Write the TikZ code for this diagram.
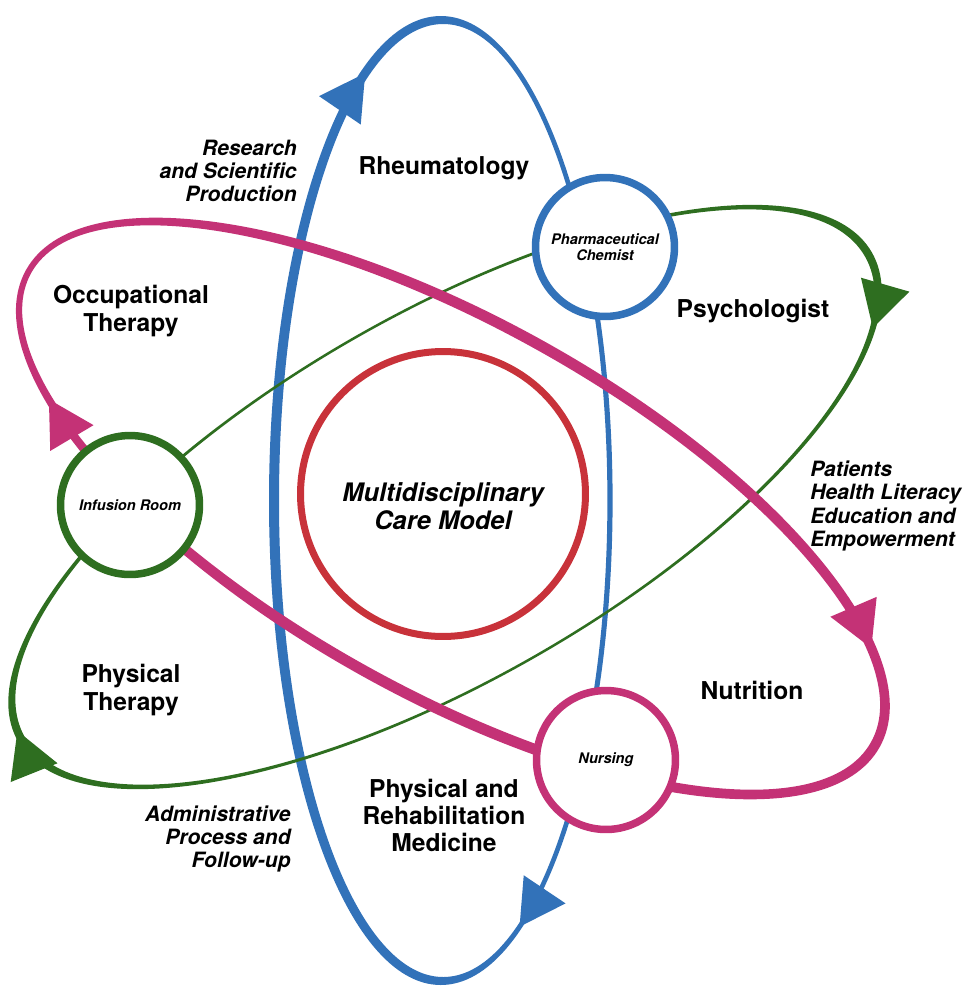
\documentclass[tikz,border=0pt]{standalone}
\usepackage{fontspec}
\setmainfont{TeX Gyre Heros}
\usepackage{tikz}
\usetikzlibrary{arrows.meta}

\definecolor{rblue}{RGB}{50,114,185}
\definecolor{rpink}{RGB}{196,50,118}
\definecolor{rgreen}{RGB}{46,110,32}
\definecolor{rred}{RGB}{200,50,58}

\begin{document}
\begin{tikzpicture}[x=0.02cm, y=-0.02cm,
    every node/.style={align=center, inner sep=0pt},
    lbl/.style={font=\fontsize{14}{15.4}\selectfont\bfseries},
    sidelbl/.style={font=\fontsize{12}{13.3}\selectfont\bfseries\itshape},
    hub/.style={circle, draw, fill=white, line width=0.15cm, minimum size=2.78cm,
        font=\fontsize{8.3}{9.4}\selectfont\bfseries\itshape},
    arr/.style={-{Triangle[length=0.9cm, width=1cm]}, line width=1pt}]
    \useasboundingbox (0,0) rectangle (970,992);
    % orbits
    \begin{scope}[shift={(442,500.5)}]
        \fill[rblue, even odd rule] (-1.2,0) ellipse (171.8 and 484.5) (1.2,0) ellipse (164.2 and 476.5);
        \draw[arr, rblue] (227.8:168 and 480.5) arc[start angle=227.8, end angle=242.8, x radius=168, y radius=480.5];
        \draw[arr, rblue] (47.5:168 and 480.5) arc[start angle=47.5, end angle=62.5, x radius=168, y radius=480.5];
    \end{scope}
    \begin{scope}[shift={(445,497)}, rotate=29.8]
        \fill[rgreen, even odd rule] (0,0) ellipse (492 and 184.25) (0,0) ellipse (484 and 181.75);
        \draw[arr, rgreen] (1.1:488 and 183) arc[start angle=1.1, end angle=21.1, x radius=488, y radius=183];
        \draw[arr, rgreen] (163:488 and 183) arc[start angle=163, end angle=183, x radius=488, y radius=183];
    \end{scope}
    \begin{scope}[shift={(452,508)}, rotate=-29.2]
        \fill[rpink, even odd rule] (1,0) ellipse (489 and 190.5) (-1,0) ellipse (481 and 179.5);
        \draw[arr, rpink] (318.6:485 and 185) arc[start angle=318.6, end angle=333.6, x radius=485, y radius=185];
        \draw[arr, rpink] (131.6:485 and 185) arc[start angle=131.6, end angle=146.6, x radius=485, y radius=185];
    \end{scope}
    % core
    \node[circle, draw=rred, line width=0.14cm, minimum size=5.7cm] (core) at (443,494) {};
    \node[font=\fontsize{14.5}{16}\selectfont\bfseries\itshape] (model) at (443,506) {Multidisciplinary\\Care Model};
    % hubs
    \node[hub, draw=rblue] (pharm) at (605,247) {Pharmaceutical\\Chemist};
    \node[hub, draw=rgreen] (infus) at (130,505) {Infusion Room};
    \node[hub, draw=rpink] (nurs) at (606,760) {Nursing};
    % specialties
    \node[lbl] (rheum) at (444,168) {Rheumatology};
    \node[lbl] (occ) at (131,311) {Occupational\\Therapy};
    \node[lbl] (psy) at (753,311) {Psychologist};
    \node[lbl] (phys) at (131,690) {Physical\\Therapy};
    \node[lbl] (nutr) at (752,690) {Nutrition};
    \node[lbl] (rehab) at (444,815) {Physical and\\Rehabilitation\\Medicine};
    \node[sidelbl, anchor=east, align=right] (res) at (297,171) {Research\\and Scientific\\Production};
    \node[sidelbl, anchor=west, align=left] (pat) at (810,506) {Patients\\Health Literacy\\Education and\\Empowerment};
    \node[sidelbl, anchor=east, align=right] (adm) at (291,839) {Administrative\\Process and\\Follow-up};
\end{tikzpicture}
\end{document}
